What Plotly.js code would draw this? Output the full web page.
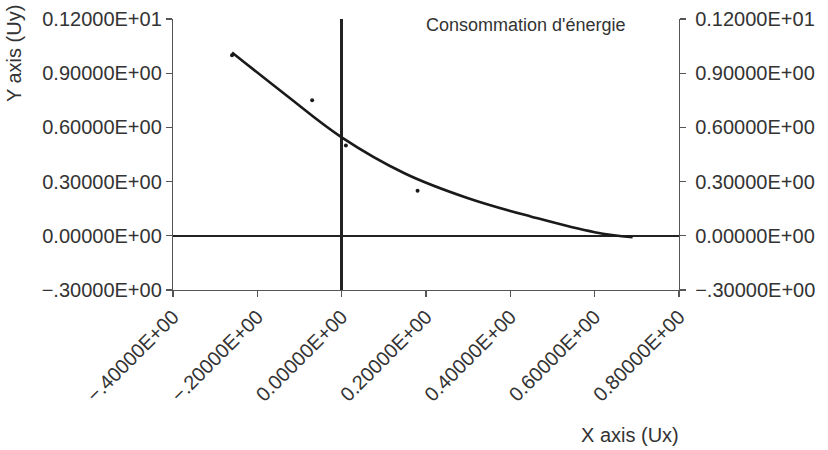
<!DOCTYPE html>
<html>
<head>
<meta charset="utf-8">
<script src="https://cdn.plot.ly/plotly-3.0.1.min.js"></script>
<style>html,body{margin:0;padding:0;background:#fff;}#chart{width:828px;height:450px;}</style>
</head>
<body>
<div id="chart"></div>
<script>
// Observed data points
const pointX = [-0.26, -0.07, 0.01, 0.18];
const pointY = [1.00, 0.75, 0.50, 0.25];

// Fitted curve
const curveX = [-0.26, -0.13, 0.0, 0.15, 0.30, 0.45, 0.60, 0.69];
const curveY = [1.015, 0.775, 0.545, 0.345, 0.208, 0.106, 0.020, -0.008];

// Tick values and labels
const xTickVals = [-0.4, -0.2, 0.0, 0.2, 0.4, 0.6, 0.8];
const xTickText = ["\u2212.40000E+00", "\u2212.20000E+00", "0.00000E+00", "0.20000E+00", "0.40000E+00", "0.60000E+00", "0.80000E+00"];
const yTickVals = [-0.3, 0.0, 0.3, 0.6, 0.9, 1.2];
const yTickText = ["\u2212.30000E+00", "0.00000E+00", "0.30000E+00", "0.60000E+00", "0.90000E+00", "0.12000E+01"];

const FONT = "Liberation Sans, Arial, sans-serif";
const TXT = "#333333";

const traces = [
  {
    x: curveX, y: curveY, type: "scatter", mode: "lines",
    line: {color: "#1a1a1a", width: 2.6, shape: "spline", smoothing: 1.1},
    hoverinfo: "skip", showlegend: false
  },
  {
    x: pointX, y: pointY, type: "scatter", mode: "markers",
    marker: {color: "#1a1a1a", size: 4},
    showlegend: false
  },
  {
    x: pointX, y: pointY, type: "scatter", mode: "markers", yaxis: "y2",
    marker: {opacity: 0}, hoverinfo: "skip", showlegend: false
  }
];

const axisCommon = {
  showgrid: false, showline: true, linecolor: "#555555", linewidth: 1.2,
  ticks: "outside", ticklen: 6, tickwidth: 1.2, tickcolor: "#555555",
  tickfont: {family: FONT, size: 20, color: TXT}, tickmode: "array"
};

const layout = {
  width: 828, height: 450,
  margin: {l: 173, r: 149, t: 19, b: 160, pad: 0},
  paper_bgcolor: "#ffffff", plot_bgcolor: "#ffffff",
  showlegend: false,
  xaxis: Object.assign({}, axisCommon, {
    range: [-0.4, 0.8], tickvals: xTickVals, ticktext: xTickText,
    tickangle: -45, zeroline: true, zerolinecolor: "#222222", zerolinewidth: 2.5,
    anchor: "y"
  }),
  yaxis: Object.assign({}, axisCommon, {
    range: [-0.3, 1.2], tickvals: yTickVals, ticktext: yTickText,
    zeroline: true, zerolinecolor: "#222222", zerolinewidth: 2.5, side: "left"
  }),
  yaxis2: Object.assign({}, axisCommon, {
    range: [-0.3, 1.2], tickvals: yTickVals, ticktext: yTickText,
    zeroline: false, side: "right", overlaying: "y", anchor: "x",
    ticklabelstandoff: 5
  }),
  annotations: [
    {text: "Consommation d'énergie", xref: "paper", yref: "paper", x: 0.698, y: 0.978,
     xanchor: "center", yanchor: "middle", showarrow: false,
     font: {family: FONT, size: 18, color: TXT}},
    {text: "Y axis (Uy)", xref: "paper", yref: "paper", x: -0.314, y: 0.871,
     xanchor: "center", yanchor: "middle", textangle: -90, showarrow: false,
     font: {family: FONT, size: 20, color: TXT}},
    {text: "X axis (Ux)", xref: "paper", yref: "paper", x: 0.903, y: -0.535,
     xanchor: "center", yanchor: "middle", showarrow: false,
     font: {family: FONT, size: 20, color: TXT}}
  ]
};

Plotly.newPlot("chart", traces, layout, {displayModeBar: false, staticPlot: true});
</script>
</body>
</html>
